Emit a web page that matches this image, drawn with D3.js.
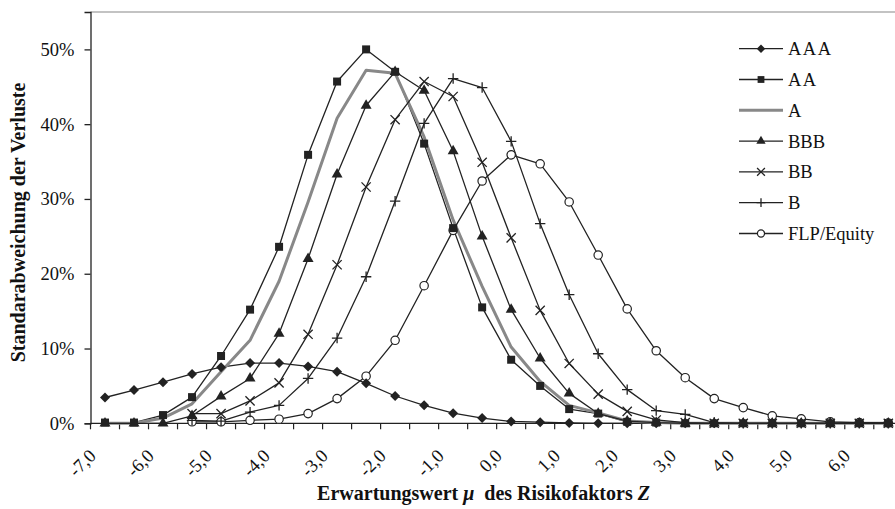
<!DOCTYPE html>
<html><head><meta charset="utf-8">
<script src="https://cdn.jsdelivr.net/npm/d3@7"></script>
<style>
body{margin:0;background:#fff;}
svg{display:block;}
text{font-family:"Liberation Serif","Times New Roman",serif;fill:#111;}
</style></head>
<body><svg id="chart" width="895" height="509"></svg>
<script>
// ---- data ----
const categories = [-7.0,-6.5,-6.0,-5.5,-5.0,-4.5,-4.0,-3.5,-3.0,-2.5,-2.0,-1.5,-1.0,-0.5,0.0,0.5,1.0,1.5,2.0,2.5,3.0,3.5,4.0,4.5,5.0,5.5,6.0,6.5];
const xTickLabels = ["-7,0","-6,0","-5,0","-4,0","-3,0","-2,0","-1,0","0,0","1,0","2,0","3,0","4,0","5,0","6,0"];
const yTickValues = [0,10,20,30,40,50];
const seriesNames = ["AAA","AA","A","BBB","BB","B","FLP/Equity"];
const AAA = [3.45,4.45,5.5,6.6,7.5,8.05,8.05,7.6,6.9,5.35,3.65,2.4,1.35,0.7,0.25,0.15,0.05,0,0,0,0,0,0,0,0,0,0,0];
const AA  = [0.1,0.1,1.1,3.5,9.0,15.2,23.6,35.9,45.7,50.0,47.0,37.4,26.1,15.5,8.5,5.0,1.9,1.3,0.2,0.1,0,0,0,0,0,0,0,0];
const A   = [0,0,0.7,2.6,6.9,11.1,19.0,29.6,40.8,47.2,46.8,38.3,27.2,18.3,10.2,5.6,2.4,1.4,0.3,0.1,0,0,0,0,0,0,0,0];
const BBB = [0,0,0,1.0,3.6,6.0,12.0,22.0,33.3,42.5,47.0,44.5,36.4,25.0,15.2,8.7,4.0,1.3,0.3,0.1,0,0,0,0,0,0,0,0];
const BB  = [null,null,null,1.3,1.3,3.0,5.4,11.9,21.2,31.6,40.6,45.7,43.7,34.9,24.8,15.1,8.0,3.9,1.6,0.45,0.1,0,0,0,0,0,0,0];
const B   = [null,null,null,0.4,0.3,1.5,2.4,6.0,11.4,19.6,29.7,40.1,46.1,44.9,37.7,26.7,17.2,9.3,4.5,1.7,1.2,0.1,0,0,0,0,0,0];
const FLP = [null,null,null,0.2,0.2,0.4,0.55,1.3,3.3,6.3,11.1,18.4,25.8,32.4,35.9,34.7,29.6,22.5,15.3,9.7,6.1,3.3,2.1,1.0,0.6,0.2,0.1,0.05];
const seriesValues = [AAA,AA,A,BBB,BB,B,FLP];
const seriesMarkers = ["diamond","square","none","triangle","cross","plus","circle"];

// ---- layout ----
const svg = d3.select("#chart");
const plotLeft = 90.5, plotRight = 902.8, plotTop = 12, plotBottom = 423.3;
const x = d3.scaleBand().domain(categories).range([plotLeft, plotRight]).paddingInner(0).paddingOuter(0);
const cx = c => x(c) + x.bandwidth()/2;
const y = d3.scaleLinear().domain([0,55]).range([plotBottom, plotTop]);
const ink = "#222";

// frame top border
svg.append("line").attr("x1",plotLeft).attr("x2",895).attr("y1",plotTop).attr("y2",plotTop)
  .attr("stroke","#888").attr("stroke-width",1.2);

// y axis
const yAxis = d3.axisLeft(y).tickValues(yTickValues).tickFormat(d => d + "%").tickSize(6).tickPadding(10);
const gy = svg.append("g").attr("transform",`translate(${plotLeft},0)`).call(yAxis);
gy.select(".domain").attr("stroke",ink).attr("stroke-width",1.3);
gy.selectAll(".tick line").attr("stroke",ink).attr("stroke-width",1.3);
gy.selectAll("text").style("font-family","'Liberation Serif',serif").style("font-size","18.5px").attr("fill","#111");

// x axis
const gx = svg.append("g");
gx.append("line").attr("x1",plotLeft).attr("x2",plotRight).attr("y1",plotBottom).attr("y2",plotBottom).attr("stroke",ink).attr("stroke-width",1.3);
const bounds = categories.map(c => x(c)).concat([x.range()[1]]);
gx.selectAll("line.tk").data(bounds).enter().append("line").attr("class","tk")
  .attr("x1",d=>d).attr("x2",d=>d).attr("y1",plotBottom).attr("y2",plotBottom+6).attr("stroke",ink).attr("stroke-width",1.2);
const labelled = categories.filter((c,i) => i % 2 === 0);
gx.selectAll("text.xl").data(labelled).enter().append("text").attr("class","xl")
  .attr("transform", (d,i) => `translate(${cx(d)-8},${457}) rotate(-45)`)
  .attr("text-anchor","end").style("font-size","18.5px")
  .text((d,i) => xTickLabels[i]);

// series
const markerPath = {
  diamond: "M0,-5L5,0L0,5L-5,0Z",
  square: d3.symbol().type(d3.symbolSquare).size(64)(),
  triangle: d3.symbol().type(d3.symbolTriangle).size(52)(),
};
function drawMarker(g, type, px, py, scale) {
  const s = scale || 1;
  if (type === "diamond" || type === "square" || type === "triangle") {
    g.append("path").attr("d", markerPath[type]).attr("transform",`translate(${px},${py}) scale(${s})`).attr("fill",ink);
  } else if (type === "cross") {
    const r = 4.6*s;
    g.append("path").attr("d",`M${px-r},${py-r}L${px+r},${py+r}M${px-r},${py+r}L${px+r},${py-r}`).attr("stroke",ink).attr("stroke-width",1.3).attr("fill","none");
  } else if (type === "plus") {
    const r = 5.2*s;
    g.append("path").attr("d",`M${px-r},${py}L${px+r},${py}M${px},${py-r}L${px},${py+r}`).attr("stroke",ink).attr("stroke-width",1.3).attr("fill","none");
  } else if (type === "circle") {
    g.append("circle").attr("cx",px).attr("cy",py).attr("r",4.2*s).attr("fill","#fff").attr("stroke",ink).attr("stroke-width",1.2);
  }
}
const line = d3.line().defined(d => d !== null).x((d,i) => cx(categories[i])).y(d => y(d));
// all lines first
seriesValues.forEach((vals, si) => {
  const isA = seriesMarkers[si] === "none";
  svg.append("path").attr("d", line(vals)).attr("fill","none")
    .attr("stroke", isA ? "#888" : ink).attr("stroke-width", isA ? 3 : 1.3).attr("stroke-linejoin","round");
});
// then markers, last series at the bottom
seriesValues.slice().reverse().forEach((vals, ri) => {
  const si = seriesValues.length - 1 - ri;
  if (seriesMarkers[si] === "none") return;
  const g = svg.append("g");
  vals.forEach((v,i) => { if (v !== null) drawMarker(g, seriesMarkers[si], cx(categories[i]), y(v)); });
});

// legend
const legY0 = 48.7, legDy = 30.8;
seriesNames.forEach((name, i) => {
  const g = svg.append("g");
  const ly = legY0 + i*legDy;
  const isA = seriesMarkers[i] === "none";
  g.append("line").attr("x1",739).attr("x2",783).attr("y1",ly).attr("y2",ly)
    .attr("stroke", isA ? "#888" : ink).attr("stroke-width", isA ? 3 : 1.3);
  if (!isA) drawMarker(g, seriesMarkers[i], 761, ly, 0.85);
  g.append("text").attr("x",788).attr("y",ly).attr("dy","0.35em").style("font-size","18.5px")
    .attr("letter-spacing", name.startsWith("A") ? "1.5px" : "0px").text(name);
});

// axis titles
svg.append("text").attr("transform","translate(25,222.5) rotate(-90)").attr("text-anchor","middle")
  .style("font-size","20px").style("font-weight","bold").text("Standarabweichung der Verluste");
const xt = svg.append("text").attr("x",483.5).attr("y",500).attr("text-anchor","middle")
  .style("font-size","20px").style("font-weight","bold").style("white-space","pre");
xt.append("tspan").text("Erwartungswert ");
xt.append("tspan").style("font-style","italic").text("μ");
xt.append("tspan").text("  des Risikofaktors ");
xt.append("tspan").style("font-style","italic").text("Z");
</script></body></html>
